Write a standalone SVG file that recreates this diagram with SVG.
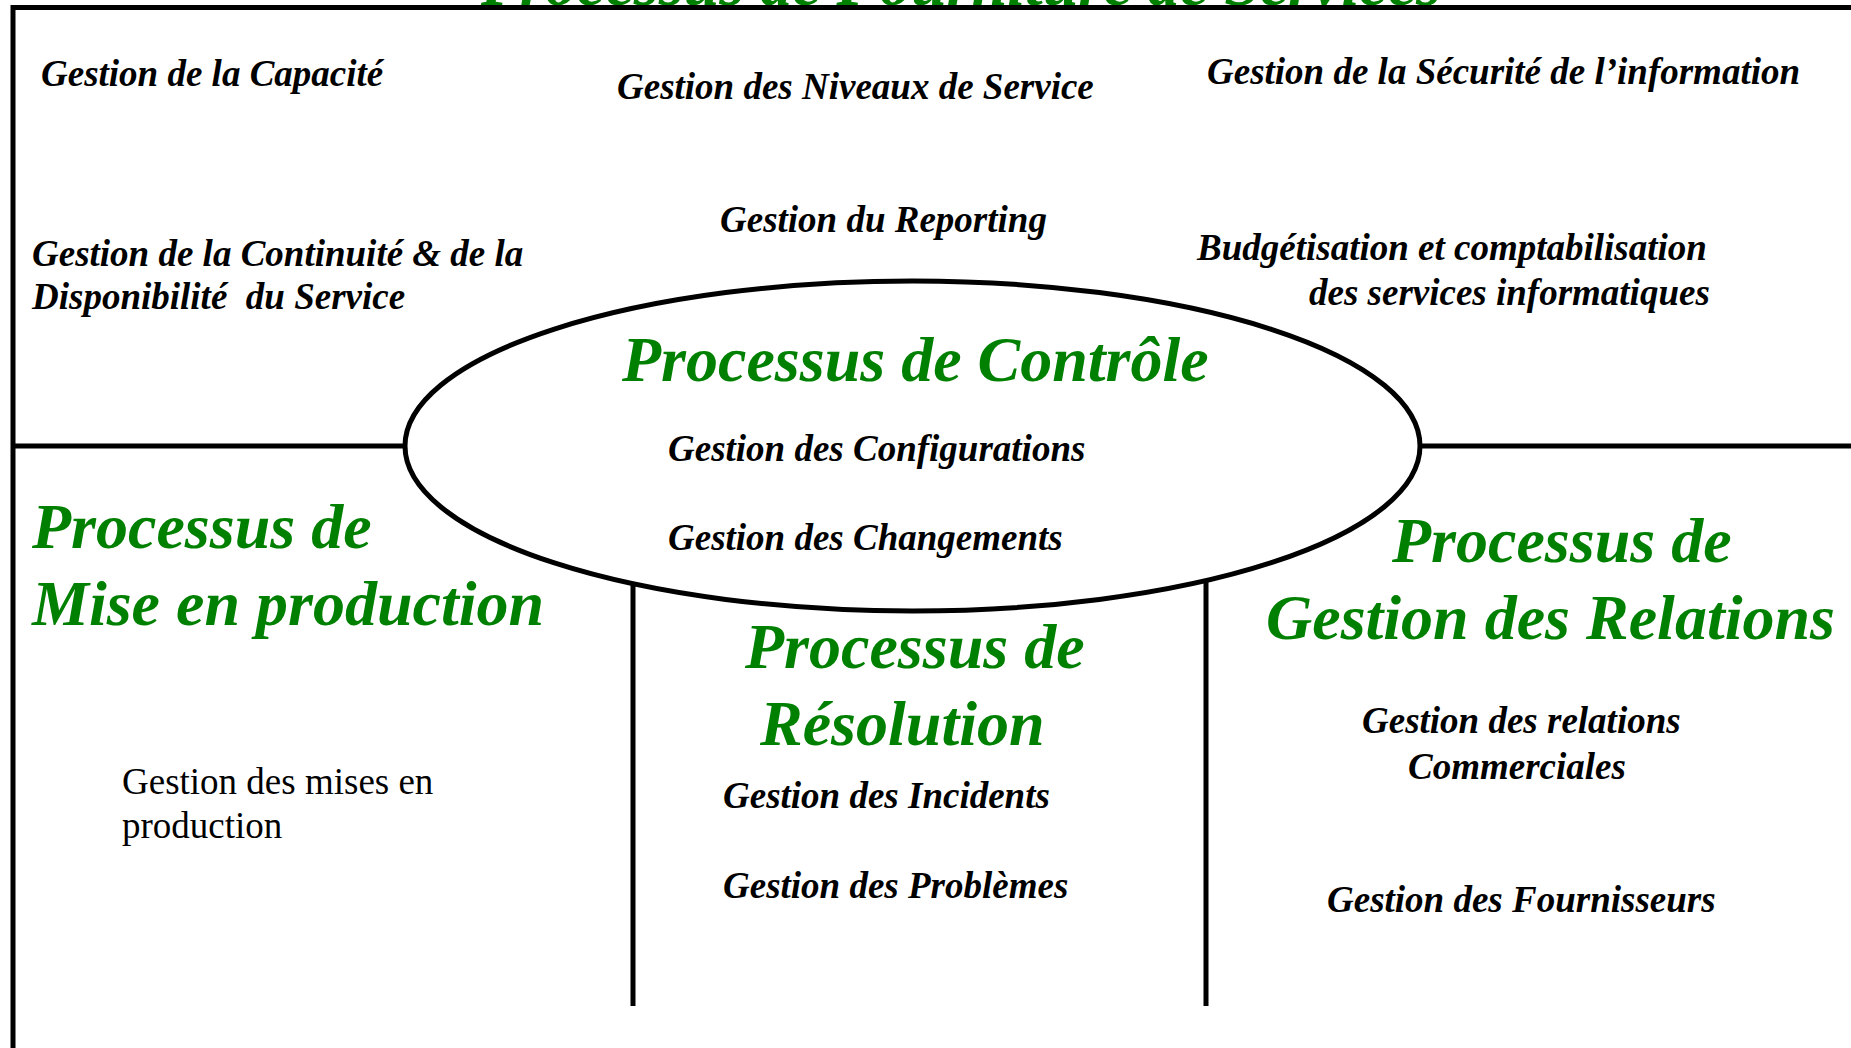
<svg xmlns="http://www.w3.org/2000/svg" width="1851" height="1048" viewBox="0 0 1851 1048">
  <style>
    .frame { stroke: #000; stroke-width: 5; fill: none; }
    .green { font-family: "Liberation Serif", "Times New Roman", serif; font-weight: bold; font-style: italic; font-size: 64px; fill: #008000; }
    .item { font-family: "Liberation Serif", "Times New Roman", serif; font-weight: bold; font-style: italic; font-size: 37px; fill: #000; }
    .plain { font-family: "Liberation Serif", "Times New Roman", serif; font-size: 37px; fill: #000; }
  </style>
  <rect width="1851" height="1048" fill="#fff"/>

  <g id="title">
    <text class="green" x="481" y="5">Processus de Fourniture de Services</text>
  </g>

  <g id="connectors">
    <line class="frame" x1="13" y1="7.5" x2="1851" y2="7.5"/>
    <line class="frame" x1="13" y1="5" x2="13" y2="1048"/>
    <line class="frame" x1="13" y1="446" x2="1851" y2="446"/>
    <line class="frame" x1="633" y1="575" x2="633" y2="1006"/>
    <line class="frame" x1="1206" y1="575" x2="1206" y2="1006"/>
  </g>

  <g id="fourniture">
    <text class="item" x="41" y="86">Gestion de la Capacité</text>
    <text class="item" x="617" y="99">Gestion des Niveaux de Service</text>
    <text class="item" x="1207" y="84">Gestion de la Sécurité de l’information</text>
    <text class="item" x="720" y="232">Gestion du Reporting</text>
    <text class="item" x="32" y="266">Gestion de la Continuité &amp; de la</text>
    <text class="item" x="32" y="309" xml:space="preserve">Disponibilité  du Service</text>
    <text class="item" x="1197" y="260">Budgétisation et comptabilisation</text>
    <text class="item" x="1309" y="305">des services informatiques</text>
  </g>

  <g id="controle">
    <ellipse cx="912.5" cy="446" rx="507.5" ry="165" fill="#fff" stroke="#000" stroke-width="5"/>
    <text class="green" x="622" y="381">Processus de Contrôle</text>
    <text class="item" x="668" y="461">Gestion des Configurations</text>
    <text class="item" x="668" y="550">Gestion des Changements</text>
  </g>

  <g id="mise-en-production">
    <text class="green" x="32" y="548">Processus de</text>
    <text class="green" x="32" y="625">Mise en production</text>
    <text class="plain" x="122" y="794">Gestion des mises en</text>
    <text class="plain" x="122" y="838">production</text>
  </g>

  <g id="resolution">
    <text class="green" x="745" y="668">Processus de</text>
    <text class="green" x="760" y="745">Résolution</text>
    <text class="item" x="723" y="808">Gestion des Incidents</text>
    <text class="item" x="723" y="898">Gestion des Problèmes</text>
  </g>

  <g id="relations">
    <text class="green" x="1392" y="562">Processus de</text>
    <text class="green" x="1266" y="639">Gestion des Relations</text>
    <text class="item" x="1362" y="733">Gestion des relations</text>
    <text class="item" x="1408" y="779">Commerciales</text>
    <text class="item" x="1327" y="912">Gestion des Fournisseurs</text>
  </g>
</svg>
